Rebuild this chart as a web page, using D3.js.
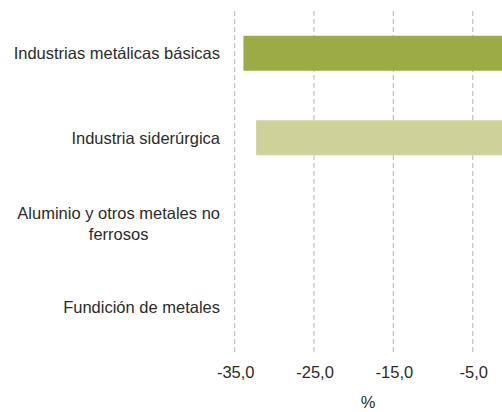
<!DOCTYPE html>
<html>
  <head>
    <meta charset="UTF-8">
    <title>Industrias metálicas básicas</title>
    <script src="https://d3js.org/d3.v7.min.js"></script>
    <style>
      body { margin: 0; background: #fff; }
      text {
        font-family: "Liberation Sans", Arial, sans-serif;
        font-size: 16.5px;
        fill: #2b2b2b;
      }
      .grid line {
        stroke: #c4c4c4;
        stroke-width: 1.3px;
        stroke-dasharray: 5 3;
      }
    </style>
  </head>
  <body>
    <div id="chart"></div>
    <script>
      // data
      const categories = [
        "Industrias metálicas básicas",
        "Industria siderúrgica",
        "Aluminio y otros metales no ferrosos",
        "Fundición de metales"
      ];
      const values = [-33.9, -32.3, null, null];
      const barColors = ["#9cab45", "#ced29a", "#ced29a", "#ced29a"];
      const tickValues = [-35, -25, -15, -5];
      const axisTitle = "%";

      const width = 502;
      const height = 412;

      const svg = d3.select("#chart")
        .append("svg")
        .attr("width", width)
        .attr("height", height);

      // 0 sits just past the right edge of the picture
      const x = d3.scaleLinear()
        .domain([-35, 0])
        .range([234.7, 512.4]);

      const y = d3.scaleBand()
        .domain(categories)
        .range([11, 349])
        .paddingInner(0.586)
        .paddingOuter(0.293);

      // dashed vertical grid
      svg.append("g")
        .attr("class", "grid")
        .selectAll("line")
        .data(tickValues)
        .enter()
        .append("line")
        .attr("x1", d => x(d))
        .attr("x2", d => x(d))
        .attr("y1", 11)
        .attr("y2", 352);

      // bars
      svg.selectAll("rect.bar")
        .data(categories.map((c, i) => ({ c, v: values[i], col: barColors[i] })).filter(d => d.v != null))
        .enter()
        .append("rect")
        .attr("class", "bar")
        .attr("x", d => x(Math.min(d.v, 0)))
        .attr("width", d => Math.abs(x(d.v) - x(0)))
        .attr("y", d => y(d.c))
        .attr("height", y.bandwidth())
        .attr("fill", d => d.col);

      // x tick labels
      const fmt = d => d3.format(".1f")(d).replace("−", "-").replace(".", ",");
      svg.append("g")
        .selectAll("text")
        .data(tickValues)
        .enter()
        .append("text")
        .attr("x", d => x(d) + 1)
        .attr("y", 378)
        .attr("text-anchor", "middle")
        .text(fmt);

      svg.append("text")
        .attr("x", 368)
        .attr("y", 408)
        .attr("text-anchor", "middle")
        .text(axisTitle);

      // category labels, wrapped
      const labels = svg.append("g")
        .selectAll("text")
        .data(categories)
        .enter()
        .append("text")
        .attr("text-anchor", "middle");

      labels.each(function(d) {
        const t = d3.select(this);
        const words = d.split(" ");
        const lines = [];
        let line = [];
        const probe = t.append("tspan");
        words.forEach(w => {
          probe.text(line.concat(w).join(" "));
          if (line.length && probe.node().getComputedTextLength() > 214) {
            lines.push(line.join(" "));
            line = [w];
          } else {
            line.push(w);
          }
        });
        lines.push(line.join(" "));
        // right-align the block, centre each line in it
        const widths = lines.map(l => {
          probe.text(l);
          return probe.node().getComputedTextLength();
        });
        probe.remove();
        const maxW = d3.max(widths);
        const cx = 220 - maxW / 2;
        const lh = 21;
        const cy = y(d) + y.bandwidth() / 2;
        const n = lines.length;
        lines.forEach((l, i) => {
          t.append("tspan")
            .attr("x", cx)
            .attr("y", cy + 6 + (i - (n - 1) / 2) * lh + (n - 1) * 1.5)
            .text(l);
        });
      });
    </script>
  </body>
</html>
